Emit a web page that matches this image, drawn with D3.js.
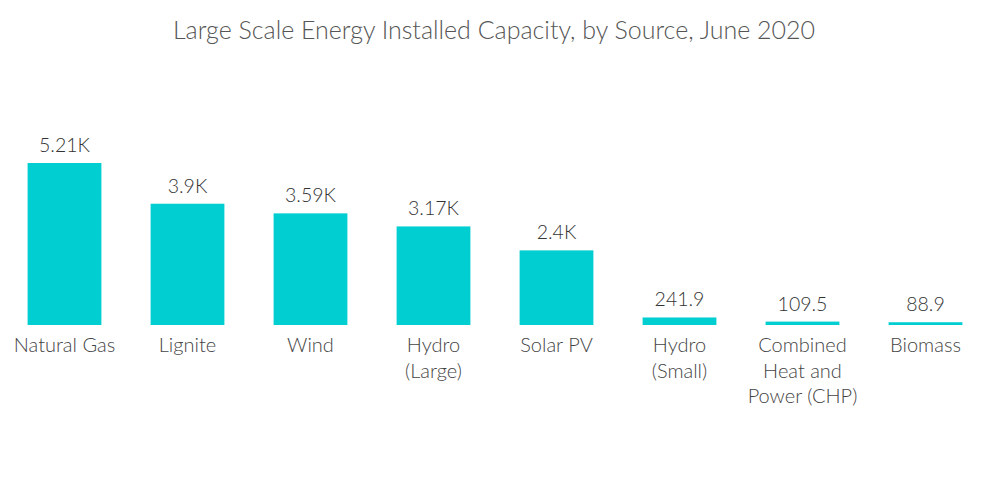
<!DOCTYPE html>
<html>
<head>
<meta charset="utf-8">
<script src="https://cdn.jsdelivr.net/npm/d3@7"></script>
<style>
  body { margin: 0; background: #fff; }
  text { font-family: Lato, "Open Sans", sans-serif; }
</style>
</head>
<body>
<div id="chart"></div>
<script>
// ---- data ----
const categories = [
  ['Natural Gas'],
  ['Lignite'],
  ['Wind'],
  ['Hydro', '(Large)'],
  ['Solar PV'],
  ['Hydro', '(Small)'],
  ['Combined', 'Heat and', 'Power (CHP)'],
  ['Biomass']
];
const values = [5210, 3900, 3590, 3170, 2400, 241.9, 109.5, 88.9];
const valueLabels = ['5.21K', '3.9K', '3.59K', '3.17K', '2.4K', '241.9', '109.5', '88.9'];

const width = 1000, height = 504;
const baseY = 325;

const svg = d3.select('#chart')
  .append('svg')
  .attr('width', width)
  .attr('height', height);

svg.append('text')
  .attr('x', 494)
  .attr('y', 39)
  .attr('text-anchor', 'middle')
  .attr('font-size', 25)
  .attr('font-weight', 300)
  .attr('fill', '#555')
  .text('Large Scale Energy Installed Capacity, by Source, June 2020');

const x = d3.scaleBand()
  .domain(d3.range(values.length))
  .range([3, 987])
  .paddingInner(0.4)
  .paddingOuter(0.2);

const y = d3.scaleLinear()
  .domain([0, 5210])
  .range([baseY, 163]);

svg.selectAll('.bar')
  .data(values)
  .enter()
  .append('rect')
  .attr('class', 'bar')
  .attr('x', (d, i) => x(i))
  .attr('width', x.bandwidth())
  .attr('y', d => y(d))
  .attr('height', d => baseY - y(d))
  .attr('fill', '#00CED1');

svg.selectAll('.val')
  .data(values)
  .enter()
  .append('text')
  .attr('class', 'val')
  .attr('x', (d, i) => x(i) + x.bandwidth() / 2)
  .attr('y', d => y(d) - 11)
  .attr('text-anchor', 'middle')
  .attr('font-size', 19.5)
  .attr('font-weight', 300)
  .attr('fill', '#333')
  .text((d, i) => valueLabels[i]);

// Category labels (multi-line)
categories.forEach((lines, i) => {
  const t = svg.append('text')
    .attr('x', x(i) + x.bandwidth() / 2)
    .attr('y', 352)
    .attr('text-anchor', 'middle')
    .attr('font-size', 20)
    .attr('font-weight', 300)
    .attr('fill', '#444');
  lines.forEach((line, j) => {
    t.append('tspan')
      .attr('x', x(i) + x.bandwidth() / 2)
      .attr('dy', j === 0 ? 0 : 25.5)
      .text(line);
  });
});
</script>
</body>
</html>
